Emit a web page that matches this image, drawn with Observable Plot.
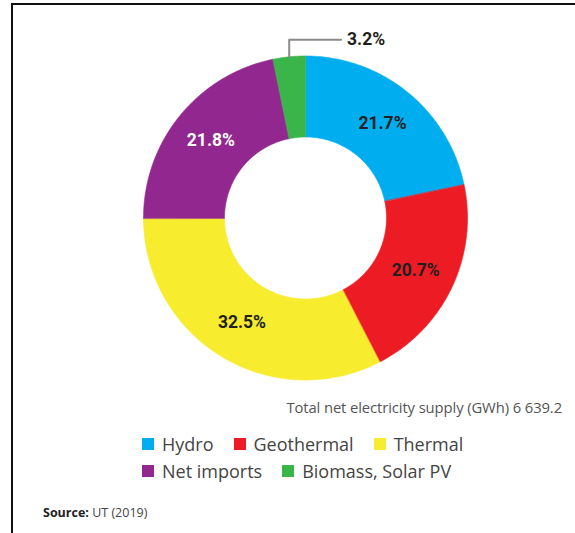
<!DOCTYPE html>
<html>
<head>
<meta charset="utf-8">
<script src="https://cdn.jsdelivr.net/npm/d3@7"></script>
<script src="https://cdn.jsdelivr.net/npm/@observablehq/plot@0.6"></script>
<style>
  html, body { margin: 0; padding: 0; background: #fff; overflow: hidden; }
  body { width: 575px; height: 533px; position: relative; font-family: "Open Sans", sans-serif; }
  #frame { position: absolute; left: 11px; top: 3px; width: 700px; height: 700px;
           border-left: 2px solid #111; border-top: 2px solid #111; }
  #chart { position: absolute; left: 0; top: 0; }
  #total { position: absolute; right: 13px; top: 397px; font-size: 14.8px; color: #555; white-space: nowrap; letter-spacing: -0.1px; }
  #legend { position: absolute; left: 142px; top: 430px; width: 400px; }
  #source { position: absolute; left: 43px; top: 504px; font-size: 12.5px; color: #444; }
  #source b { color: #222; }
  div.lg-swatches.lg-swatches-wrap { min-height: 0 !important; margin: 0 !important; }
  div.lg-swatches-wrap span.lg-swatch { margin-right: 20px !important; height: 27px; }
  div.lg-swatches span.lg-swatch > svg { margin-right: 8px !important; }
</style>
</head>
<body>
<div id="frame"></div>
<div id="chart"></div>
<div id="total">Total net electricity supply (GWh) 6 639.2</div>
<div id="legend"></div>
<div id="source"><b>Source:</b> UT (2019)</div>
<script>
// ---- data ----
const categories = ["Hydro", "Geothermal", "Thermal", "Net imports", "Biomass, Solar PV"];
const shares = [21.7, 20.7, 32.5, 21.8, 3.2];
const colors = ["#00aeef", "#ed1c24", "#f7ec2e", "#92278f", "#39b54a"];
const labelColors = ["#231f20", "#231f20", "#231f20", "#ffffff", "#231f20"];
const outsideLabel = [false, false, false, false, true];

// ---- geometry derived from the data ----
const total = d3.sum(shares);
const R = 1, r = 0.5; // outer / inner radius in data units
let acc = 0;
const slices = categories.map((c, i) => {
  const a0 = acc / total * 2 * Math.PI;
  acc += shares[i];
  const a1 = acc / total * 2 * Math.PI;
  return {cat: c, value: shares[i], a0, a1, mid: (a0 + a1) / 2, i};
});
const pt = (rad, a) => [rad * Math.sin(a), rad * Math.cos(a)];

const polys = [];
for (const s of slices) {
  const n = Math.max(4, Math.ceil((s.a1 - s.a0) / (Math.PI / 180)));
  for (let k = 0; k <= n; k++) {
    const a = s.a0 + (s.a1 - s.a0) * k / n;
    const [x, y] = pt(R, a);
    polys.push({cat: s.cat, x, y});
  }
  for (let k = n; k >= 0; k--) {
    const a = s.a0 + (s.a1 - s.a0) * k / n;
    const [x, y] = pt(r, a);
    polys.push({cat: s.cat, x, y});
  }
}

const labelR = (R + r) / 2 * 1.005;
const inside = slices.filter(s => !outsideLabel[s.i]).map(s => {
  const [x, y] = pt(labelR, s.mid);
  return {x, y, text: s.value.toFixed(1) + "%", color: labelColors[s.i]};
});

const leaders = [];
const outside = [];
for (const s of slices.filter(s => outsideLabel[s.i])) {
  const [ax, ay] = pt(R, s.mid);
  const rise = 0.105, run = 0.32;
  leaders.push({cat: s.cat, x: ax, y: ay});
  leaders.push({cat: s.cat, x: ax, y: ay + rise});
  leaders.push({cat: s.cat, x: ax + run, y: ay + rise});
  outside.push({x: ax + run, y: ay + rise, text: s.value.toFixed(1) + "%", color: labelColors[s.i]});
}

const cx = 305, cy = 217.5, rad = 162;
const chart = Plot.plot({
  width: 575,
  height: 400,
  margin: 0,
  x: {domain: [-1, 1], range: [cx - rad, cx + rad], axis: null},
  y: {domain: [-1, 1], range: [cy + rad, cy - rad], axis: null},
  color: {domain: categories, range: colors},
  style: {background: "transparent", overflow: "visible"},
  marks: [
    Plot.line(polys, {x: "x", y: "y", z: "cat", fill: "cat", stroke: "cat", strokeWidth: 0.6, curve: "linear-closed"}),
    Plot.line(leaders, {x: "x", y: "y", z: "cat", stroke: "#8a8a8a", strokeWidth: 2}),
    Plot.text(inside, {x: "x", y: "y", text: "text", fill: d => d.color,
      fontFamily: "Roboto, sans-serif", fontWeight: "bold", fontSize: 17.5}),
    Plot.text(outside, {x: "x", y: "y", text: "text", fill: d => d.color, textAnchor: "start", dx: 6,
      fontFamily: "Roboto, sans-serif", fontWeight: "bold", fontSize: 17.5})
  ]
});
document.getElementById("chart").appendChild(chart);

const legend = Plot.legend({
  color: {domain: categories, range: colors},
  legend: "swatches",
  swatchSize: 12,
  className: "lg",
  style: {fontFamily: "Open Sans, sans-serif", fontSize: "18px", color: "#444"}
});
document.getElementById("legend").appendChild(legend);
</script>
</body>
</html>
